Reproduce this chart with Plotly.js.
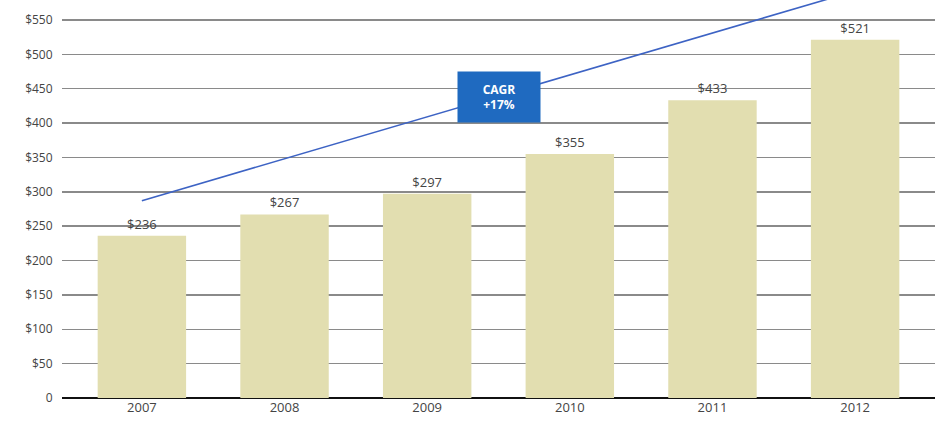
<!DOCTYPE html>
<html><head><meta charset="utf-8">
<script src="https://cdn.plot.ly/plotly-3.0.1.min.js"></script>
<style>html,body{margin:0;padding:0;background:#fff;}#chart{width:941px;height:428px;}</style>
</head><body><div id="chart"></div>
<script>
var years = ['2007','2008','2009','2010','2011','2012'];
var revenue = [236, 267, 297, 355, 433, 521];
var barLabels = ['$236','$267','$297','$355','$433','$521'];
var trendYears = ['2007','2012'];
var trendValues = [287, 592];
var tickVals = [0,50,100,150,200,250,300,350,400,450,500,550];
var tickText = ['0','$50','$100','$150','$200','$250','$300','$350','$400','$450','$500','$550'];
var cagrText = 'CAGR<br>+17%';

var bars = {
  type:'bar', x:years, y:revenue, text:barLabels, textposition:'outside',
  textfont:{family:'Open Sans, DejaVu Sans, sans-serif', size:13, color:'#444'},
  marker:{color:'#e2deb0'}, cliponaxis:false, hoverinfo:'none'
};
var trend = {
  type:'scatter', mode:'lines', x:trendYears, y:trendValues,
  line:{color:'#3d63c4', width:1.6}, hoverinfo:'none'
};
var layout = {
  width:941, height:428, showlegend:false,
  paper_bgcolor:'#fff', plot_bgcolor:'#fff',
  margin:{l:62, r:6, t:0, b:30},
  bargap:0.38,
  font:{family:'Open Sans, DejaVu Sans, sans-serif', color:'#444'},
  xaxis:{type:'category', categoryorder:'array', categoryarray:years, range:[-0.56,5.56],
    showgrid:false, zeroline:false, showline:false,
    ticks:'', tickfont:{size:13, color:'#444'}},
  yaxis:{range:[0,579], tickvals:tickVals, ticktext:tickText, showgrid:true, gridcolor:'#8a8a8a', gridwidth:1.5,
    zeroline:true, zerolinecolor:'#111', zerolinewidth:2, showline:false,
    ticks:'outside', ticklen:6, tickcolor:'rgba(0,0,0,0)', tickfont:{size:12, color:'#444'}},
  annotations:[{x:2.5, y:438, xref:'x', yref:'y', text:'<b>'+cagrText+'</b>', showarrow:false,
    bgcolor:'#1f6ac0', font:{color:'#fff', size:12, family:'Open Sans, DejaVu Sans, sans-serif'},
    width:72, height:40, borderpad:5, align:'center'}]
};
Plotly.newPlot('chart',[bars,trend],layout,{displayModeBar:false, staticPlot:true});
</script></body></html>
